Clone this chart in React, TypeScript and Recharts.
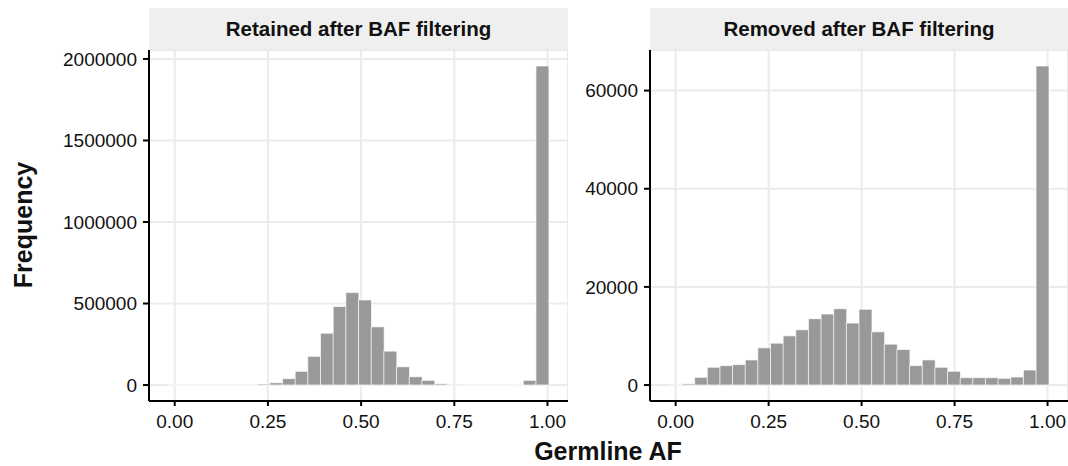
import React from "react";
import { BarChart, Bar, XAxis, YAxis, CartesianGrid } from "recharts";

// bin centers (Germline AF), 30 bins
const binCenters = [
  0, 0.034, 0.068, 0.102, 0.136, 0.17, 0.204, 0.238, 0.272, 0.306,
  0.34, 0.374, 0.408, 0.442, 0.476, 0.51, 0.544, 0.578, 0.612, 0.646,
  0.68, 0.714, 0.748, 0.782, 0.816, 0.85, 0.884, 0.918, 0.952, 0.986,
];

const retainedCounts = [
  400, 400, 400, 400, 400, 400, 400, 6000, 14000, 39000,
  84000, 176000, 318000, 482000, 567000, 522000, 357000, 208000, 112000, 51000,
  29000, 8000, 2000, 800, 500, 500, 500, 1000, 29000, 1957000,
];

const removedCounts = [
  100, 250, 1570, 3620, 3960, 4160, 5120, 7580, 8530, 10030,
  11260, 13520, 14470, 15560, 12630, 15430, 10850, 8330, 7240, 3960,
  5120, 3620, 2800, 1500, 1500, 1500, 1370, 1640, 3070, 65020,
];

const xTicks = [0, 0.25, 0.5, 0.75, 1];
const retainedYTicks = [0, 500000, 1000000, 1500000, 2000000];
const removedYTicks = [0, 20000, 40000, 60000];

const panelTitles = ["Retained after BAF filtering", "Removed after BAF filtering"];
const xTitle = "Germline AF";
const yTitle = "Frequency";

const FONT = '"Liberation Sans", Arial, Helvetica, sans-serif';
const GRID = "#EBEBEB";
const X_DOMAIN: [number, number] = [-0.069, 1.055];

function makeRows(counts: number[]) {
  return binCenters.map((x, i) => ({ x, count: counts[i] }));
}

function yDomain(counts: number[]): [number, number] {
  const m = Math.max(...counts);
  return [-0.05 * m, 1.05 * m];
}

const tickStyle = { fontSize: 19, fill: "#111", fontFamily: FONT };

function Panel({
  counts,
  yTicks,
  width,
  marginLeft,
}: {
  counts: number[];
  yTicks: number[];
  width: number;
  marginLeft: number;
}) {
  const data = makeRows(counts);
  return (
    <BarChart
      width={width}
      height={466}
      data={data}
      margin={{ top: 50, right: 0, bottom: 35, left: marginLeft }}
      barCategoryGap={0}
      barGap={0}
    >
      <CartesianGrid stroke={GRID} strokeWidth={2} />
      <XAxis
        dataKey="x"
        type="number"
        domain={X_DOMAIN}
        allowDataOverflow
        ticks={xTicks}
        tickFormatter={(v: number) => v.toFixed(2)}
        tick={tickStyle}
        tickSize={5}
        tickMargin={9}
        height={30}
        axisLine={{ stroke: "#000", strokeWidth: 2 }}
        tickLine={{ stroke: "#000", strokeWidth: 2 }}
        interval={0}
      />
      <YAxis
        type="number"
        domain={yDomain(counts)}
        allowDataOverflow
        ticks={yTicks}
        tick={tickStyle}
        tickSize={6}
        tickMargin={6}
        width={60}
        axisLine={{ stroke: "#000", strokeWidth: 2 }}
        tickLine={{ stroke: "#000", strokeWidth: 2 }}
        interval={0}
      />
      <Bar
        dataKey="count"
        fill="#999999"
        stroke="#FFFFFF"
        strokeWidth={0.7}
        isAnimationActive={false}
      />
    </BarChart>
  );
}

const stripStyle: React.CSSProperties = {
  position: "absolute",
  top: 8,
  height: 42,
  background: "#EFEFEF",
  display: "flex",
  alignItems: "center",
  justifyContent: "center",
  fontFamily: FONT,
  fontWeight: "bold",
  fontSize: 20.5,
  color: "#111",
};

export default function App() {
  return (
    <div
      style={{
        position: "absolute",
        left: 0,
        top: 0,
        width: 1068,
        height: 466,
        background: "#fff",
        overflow: "hidden",
      }}
    >
      <div style={{ ...stripStyle, left: 149, width: 419 }}>{panelTitles[0]}</div>
      <div style={{ ...stripStyle, left: 650, width: 418 }}>{panelTitles[1]}</div>
      <div style={{ position: "absolute", left: 0, top: 0 }}>
        <Panel counts={retainedCounts} yTicks={retainedYTicks} width={568} marginLeft={89} />
      </div>
      <div style={{ position: "absolute", left: 568, top: 0 }}>
        <Panel counts={removedCounts} yTicks={removedYTicks} width={500} marginLeft={22} />
      </div>
      <div
        style={{
          position: "absolute",
          left: 408,
          top: 436,
          width: 400,
          textAlign: "center",
          fontFamily: FONT,
          fontWeight: "bold",
          fontSize: 25,
          lineHeight: "30px",
          color: "#111",
        }}
      >
        {xTitle}
      </div>
      <div
        style={{
          position: "absolute",
          left: 23,
          top: 225,
          width: 200,
          height: 30,
          marginLeft: -100,
          marginTop: -15,
          transform: "rotate(-90deg)",
          textAlign: "center",
          fontFamily: FONT,
          fontWeight: "bold",
          fontSize: 25,
          lineHeight: "30px",
          color: "#111",
        }}
      >
        {yTitle}
      </div>
    </div>
  );
}
